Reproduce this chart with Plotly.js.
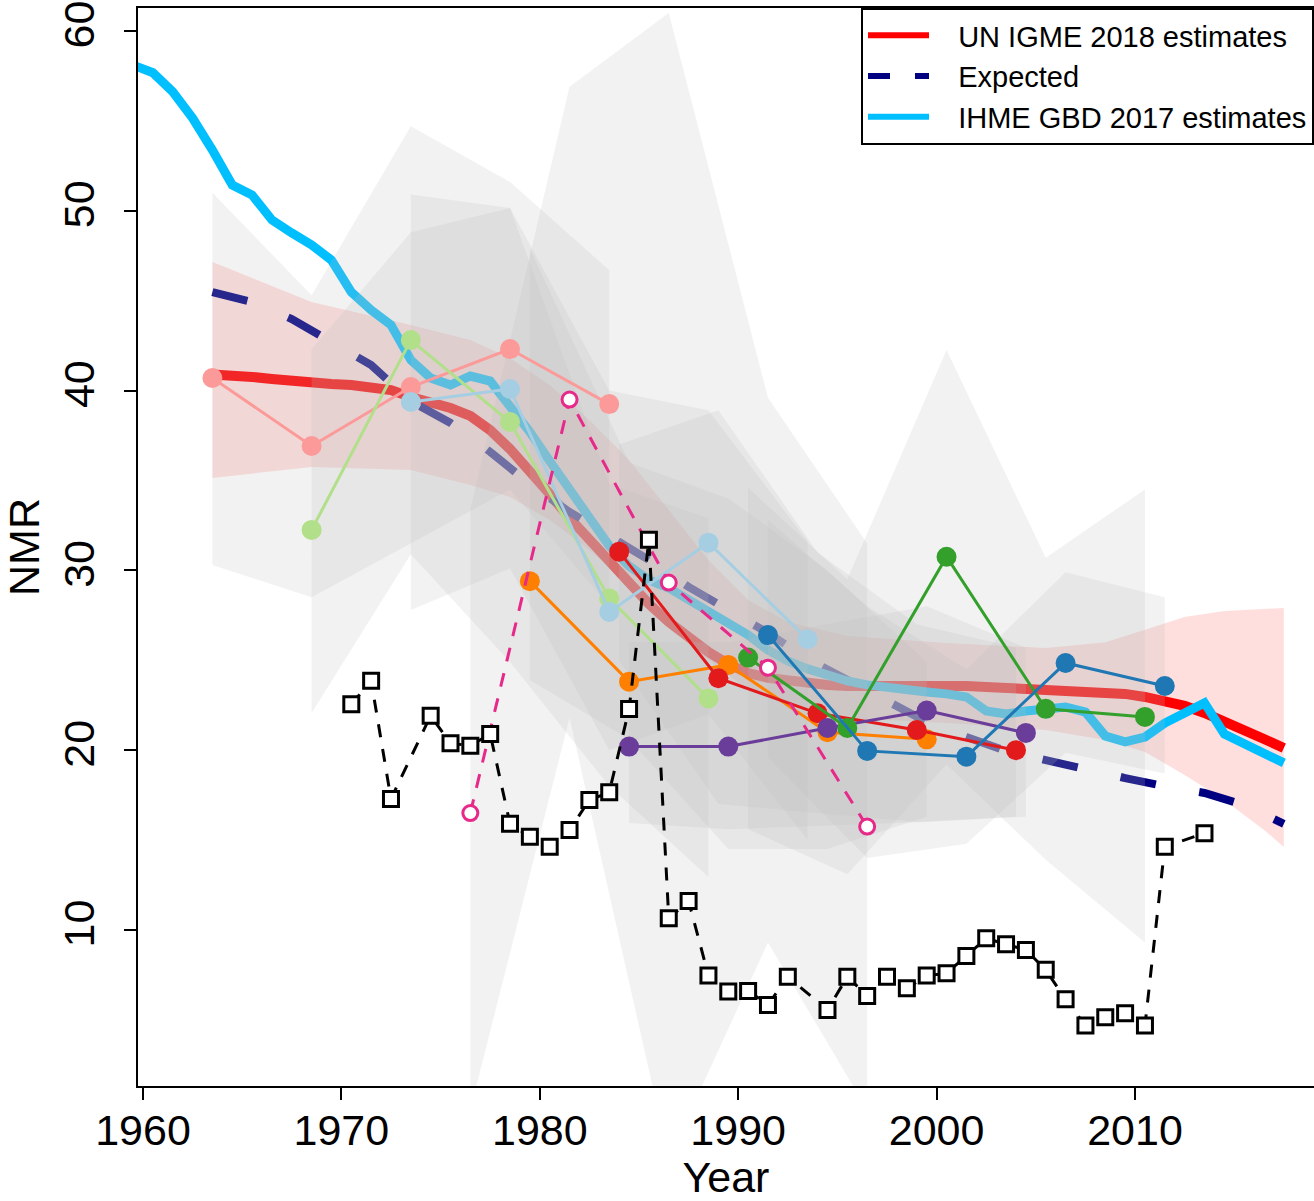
<!DOCTYPE html>
<html>
<head>
<meta charset="utf-8">
<script src="https://cdn.plot.ly/plotly-3.0.1.min.js"></script>
<style>html,body{margin:0;padding:0;background:#fff;}#chart{width:1314px;height:1201px;}</style>
</head>
<body>
<div id="chart"></div>
<script>
// ---------- Data ----------
// UN IGME 2018 estimates
const igmeYears = [1963.5,1964.5,1965.5,1966.5,1967.5,1968.5,1969.5,1970.5,1971.5,1972.5,1973.5,1974.5,1975.5,1976.5,1977.5,1978.5,1979.5,1980.5,1981.5,1982.5,1983.5,1984.5,1985.5,1986.5,1987.5,1988.5,1989.5,1990.5,1991.5,1992.5,1993.5,1994.5,1995.5,1996.5,1997.5,1998.5,1999.5,2000.5,2001.5,2002.5,2003.5,2004.5,2005.5,2006.5,2007.5,2008.5,2009.5,2010.5,2011.5,2012.5,2013.5,2014.5,2015.5,2016.5,2017.5];
const igmeValues = [40.9,40.87,40.76,40.65,40.53,40.42,40.37,40.31,40.2,40.03,39.64,39.37,39.03,38.59,37.8,36.75,35.58,34.25,32.91,31.69,30.52,29.24,28.13,27.13,26.24,25.46,24.79,24.29,24.02,23.85,23.74,23.63,23.57,23.57,23.63,23.68,23.68,23.68,23.57,23.51,23.46,23.4,23.4,23.35,23.29,23.24,23.13,22.96,22.74,22.46,22.07,21.62,21.12,20.62,20.12];
// IGME uncertainty band
const bandYears = [1963.5,1968.5,1973.5,1976.5,1978.5,1980.5,1982.5,1984.5,1986.5,1988.5,1990.5,1992.5,1995.5,2000.5,2005.5,2008.5,2010.5,2012.5,2014.5,2016.5,2017.5];
const bandUpper = [47.15,44.93,43.65,42.81,41.8,40.31,38.36,36.14,33.36,30.58,28.35,27.13,26.35,25.96,25.68,26.0,26.7,27.41,27.74,27.85,27.91];
const bandLower = [35.14,35.75,35.58,34.75,34.08,32.8,31.13,29.19,26.96,25.02,23.35,22.51,21.79,21.51,21.12,20.57,19.9,18.62,17.23,15.56,14.62];
// Expected
const expYears = [1963.5,1965.5,1967.5,1969.5,1971.5,1973.5,1975.5,1977.5,1979.5,1981.5,1983.5,1985.5,1987.5,1989.5,1991.5,1993.5,1995.5,1997.5,1999.5,2001.5,2003.5,2005.5,2007.5,2009.5,2011.5,2013.5,2015.5,2017.5];
const expValues = [45.48,44.93,43.98,42.76,41.42,39.42,38.2,36.59,34.8,33.25,31.97,30.58,29.08,27.85,26.52,25.07,23.9,22.68,21.57,20.73,19.96,19.45,18.9,18.45,18.0,17.62,16.95,15.9];
// IHME GBD 2017 estimates
const ihmeYears = [1959.5,1960.5,1961.5,1962.5,1963.5,1964.5,1965.5,1966.5,1967.5,1968.5,1969.5,1970.5,1971.5,1972.5,1973.5,1974.5,1975.5,1976.5,1977.5,1978.5,1979.5,1980.5,1981.5,1982.5,1983.5,1984.5,1985.5,1986.5,1987.5,1988.5,1989.5,1990.5,1991.5,1992.5,1993.5,1994.5,1995.5,1996.5,1997.5,1998.5,1999.5,2000.5,2001.5,2002.5,2003.5,2004.5,2005.5,2006.5,2007.5,2008.5,2009.5,2010.5,2011.5,2012.5,2013.5,2014.5,2015.5,2016.5,2017.5];
const ihmeValues = [58.1,57.68,56.62,55.16,53.38,51.43,50.88,49.49,48.77,48.1,47.26,45.48,44.48,43.65,41.7,40.7,40.31,40.81,40.53,39.2,37.7,36.08,34.47,32.8,31.36,30.24,29.47,29.02,28.35,27.74,27.13,26.41,25.57,24.96,24.52,24.13,23.85,23.63,23.46,23.29,23.24,23.13,22.96,22.18,22.01,22.18,22.29,22.4,22.12,20.79,20.46,20.73,21.51,22.07,22.63,20.9,20.35,19.84,19.29];

// Survey series (5-year points) with uncertainty bounds
const salmonYears = [1963.5,1968.5,1973.5,1978.5,1983.5];
const salmonValues = [40.7,36.92,40.2,42.31,39.25];
const salmonUpper = [51.0,45.3,54.7,51.6,46.7];
const salmonLower = [30.3,28.5,31.5,34.5,28.0];

const lgreenYears = [1968.5,1973.5,1978.5,1983.5,1988.5];
const lgreenValues = [32.25,42.81,38.25,28.44,22.88];
const lgreenUpper = [42.3,48.8,50.15,34.8,32.9];
const lgreenLower = [22.07,30.9,24.9,18.0,12.95];

const lblueYears = [1973.5,1978.5,1983.5,1988.5,1993.5];
const lblueValues = [39.37,40.09,27.69,31.54,26.17];
const lblueUpper = [50.9,50.15,40.0,38.9,31.6];
const lblueLower = [27.8,30.1,20.0,22.0,15.0];

const orangeYears = [1979.5,1984.5,1989.5,1994.5,1999.5];
const orangeValues = [29.4,23.81,24.74,21.0,20.6];
const orangeUpper = [47.9,36.0,34.0,30.0,24.9];
const orangeLower = [23.9,20.6,14.5,14.5,16.3];

const redYears = [1984,1989,1994,1999,2004];
const redValues = [31.04,24.0,22.05,21.12,20.0];
const redUpper = [37.0,38.9,31.0,27.0,25.7];
const redLower = [25.0,17.0,16.5,16.0,16.3];

const purpleYears = [1984.5,1989.5,1994.5,1999.5,2004.5];
const purpleValues = [20.2,20.2,21.23,22.2,20.96];
const purpleUpper = [26.0,26.0,27.0,28.0,25.7];
const purpleLower = [15.95,15.6,15.8,16.0,16.3];

const greenYears = [1990.5,1995.5,2000.5,2005.5,2010.5];
const greenValues = [25.15,21.23,30.76,22.3,21.85];
const greenUpper = [34.6,29.5,42.26,30.7,34.5];
const greenLower = [15.6,13.1,19.2,13.9,9.3];

const dblueYears = [1991.5,1996.5,2001.5,2006.5,2011.5];
const dblueValues = [26.4,19.96,19.64,24.85,23.57];
const dblueUpper = [32.8,28.0,24.5,29.9,28.5];
const dblueLower = [19.6,14.0,14.8,19.85,18.7];

const pinkYears = [1976.5,1981.5,1986.5,1991.5,1996.5];
const pinkValues = [16.5,39.5,29.32,24.59,15.75];
const pinkUpper = [33.4,56.9,61.0,39.6,31.5];
const pinkLower = [0.0,21.8,-2.7,9.3,0.0];

// Annual series (open squares)
const sqYears = [1970.5,1971.5,1972.5,1974.5,1975.5,1976.5,1977.5,1978.5,1979.5,1980.5,1981.5,1982.5,1983.5,1984.5,1985.5,1986.5,1987.5,1988.5,1989.5,1990.5,1991.5,1992.5,1994.5,1995.5,1996.5,1997.5,1998.5,1999.5,2000.5,2001.5,2002.5,2003.5,2004.5,2005.5,2006.5,2007.5,2008.5,2009.5,2010.5,2011.5,2013.5];
const sqValues = [22.55,23.86,17.29,21.92,20.38,20.25,20.9,15.9,15.19,14.63,15.56,17.23,17.66,22.29,31.7,10.65,11.61,7.46,6.57,6.61,5.83,7.4,5.55,7.4,6.33,7.4,6.76,7.46,7.59,8.55,9.54,9.2,8.89,7.78,6.14,4.68,5.14,5.37,4.68,14.63,15.38];

const xTicks = [1960,1970,1980,1990,2000,2010];
const yTicks = [10,20,30,40,50,60];
const legendNames = ['UN IGME 2018 estimates','Expected','IHME GBD 2017 estimates'];

// ---------- Build traces ----------
const FONT = 'Liberation Sans, Arial, Helvetica, sans-serif';
const PAD = '\u00A0\u00A0\u00A0';
function poly(xs, up, lo, color) {
  return {
    x: xs.concat(xs.slice().reverse()),
    y: up.concat(lo.slice().reverse()),
    type: 'scatter', mode: 'lines', fill: 'toself',
    fillcolor: color, line: {width: 0, color: 'rgba(0,0,0,0)'},
    hoverinfo: 'skip', showlegend: false
  };
}
function series(xs, ys, color) {
  return {
    x: xs, y: ys, type: 'scatter', mode: 'lines+markers',
    line: {color: color, width: 3},
    marker: {color: color, size: 20},
    showlegend: false
  };
}
const GREY = 'rgba(190,190,190,0.2)';
const traces = [];
traces.push(poly(bandYears, bandUpper, bandLower, 'rgba(255,0,0,0.13)'));
traces.push({x: igmeYears, y: igmeValues, type: 'scatter', mode: 'lines', line: {color: '#FF0000', width: 10}, showlegend: false});
traces.push({x: expYears, y: expValues, type: 'scatter', mode: 'lines', line: {color: '#000080', width: 8, dash: '36px,44px'}, showlegend: false});
traces.push({x: ihmeYears, y: ihmeValues, type: 'scatter', mode: 'lines', line: {color: '#00BFFF', width: 9}, showlegend: false});

traces.push(poly(salmonYears, salmonUpper, salmonLower, GREY));
traces.push(poly(lgreenYears, lgreenUpper, lgreenLower, GREY));
traces.push(poly(lblueYears, lblueUpper, lblueLower, GREY));
traces.push(poly(pinkYears, pinkUpper, pinkLower, GREY));
traces.push(poly(orangeYears, orangeUpper, orangeLower, GREY));
traces.push(poly(redYears, redUpper, redLower, GREY));
traces.push(poly(purpleYears, purpleUpper, purpleLower, GREY));
traces.push(poly(greenYears, greenUpper, greenLower, GREY));
traces.push(poly(dblueYears, dblueUpper, dblueLower, GREY));

traces.push(series(salmonYears, salmonValues, '#FB9A99'));
traces.push(series(lgreenYears, lgreenValues, '#B2DF8A'));
traces.push(series(lblueYears, lblueValues, '#A6CEE3'));
traces.push(series(orangeYears, orangeValues, '#FF7F00'));
traces.push(series(redYears, redValues, '#E31A1C'));
traces.push(series(purpleYears, purpleValues, '#6A3D9A'));
traces.push(series(greenYears, greenValues, '#33A02C'));
traces.push(series(dblueYears, dblueValues, '#1F78B4'));

traces.push({x: pinkYears, y: pinkValues, type: 'scatter', mode: 'lines+markers',
  line: {color: '#E7298A', width: 3, dash: '14px,12px'},
  marker: {symbol: 'circle', size: 15, color: '#FFFFFF', line: {color: '#E7298A', width: 3}}, showlegend: false});
traces.push({x: sqYears, y: sqValues, type: 'scatter', mode: 'lines+markers',
  line: {color: '#000000', width: 3, dash: '13px,12px'},
  marker: {symbol: 'square', size: 15, color: '#FFFFFF', line: {color: '#000000', width: 3}}, showlegend: false});

// legend entries
traces.push({x: [1900], y: [0], type: 'scatter', mode: 'lines', name: PAD + legendNames[0], line: {color: '#FF0000', width: 6}});
traces.push({x: [1900], y: [0], type: 'scatter', mode: 'lines', name: PAD + legendNames[1], line: {color: '#000080', width: 6, dash: '22px,25px'}});
traces.push({x: [1900], y: [0], type: 'scatter', mode: 'lines', name: PAD + legendNames[2], line: {color: '#00BFFF', width: 6}});

const layout = {
  width: 1314, height: 1201,
  margin: {l: 138, r: 0, t: 8, b: 115},
  paper_bgcolor: '#FFFFFF', plot_bgcolor: '#FFFFFF',
  font: {family: FONT, color: '#000000', size: 43},
  showlegend: true,
  legend: {x: 1, xanchor: 'right', y: 1, yanchor: 'top', bgcolor: '#FFFFFF', bordercolor: '#000000', borderwidth: 2,
           font: {family: FONT, size: 29, color: '#000000'}, itemwidth: 61, tracegroupgap: 0},
  xaxis: {
    range: [1959.75, 2019.02], tickvals: xTicks, ticktext: xTicks.map(String),
    ticks: 'outside', ticklen: 12, tickwidth: 2, tickcolor: '#000000',
    showline: true, linewidth: 2, linecolor: '#000000', mirror: true,
    showgrid: false, zeroline: false, ticklabelstandoff: -7,
    tickfont: {family: FONT, size: 43, color: '#000000'},
    title: {text: 'Year', font: {family: FONT, size: 43, color: '#000000'}, standoff: 26}
  },
  yaxis: {
    range: [1.32, 61.28], tickvals: yTicks, ticktext: yTicks.map(String),
    ticks: 'outside', ticklen: 12, tickwidth: 2, tickcolor: '#000000',
    showline: true, linewidth: 2, linecolor: '#000000', mirror: false,
    showgrid: false, zeroline: false, tickangle: -90, ticklabelstandoff: 13,
    tickfont: {family: FONT, size: 43, color: '#000000'},
    title: {text: 'NMR', font: {family: FONT, size: 43, color: '#000000'}, standoff: 9}
  }
};
Plotly.newPlot('chart', traces, layout, {staticPlot: true, displayModeBar: false});
</script>
</body>
</html>
